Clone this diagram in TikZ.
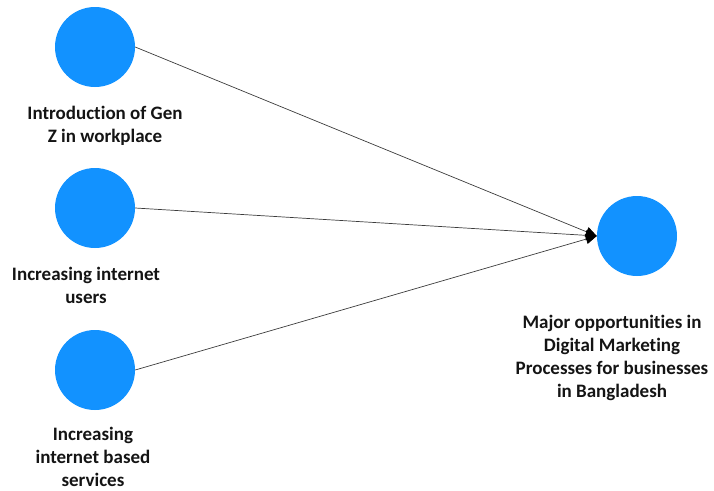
\documentclass[tikz,border=0pt]{standalone}
\usepackage{fontspec}
\setmainfont{Carlito}[Ligatures=NoCommon]
\usetikzlibrary{arrows.meta, positioning}
\definecolor{cFactor}{RGB}{18, 146, 255}
\definecolor{tDark}{RGB}{20, 20, 20}
\definecolor{bLine}{RGB}{60, 60, 60}

\begin{document}
\begin{tikzpicture}[
    x=1pt, y=-1pt,
    font=\fontsize{19}{23}\selectfont\bfseries,
    >=Triangle,
    factor/.style={
        circle,
        fill=cFactor,
        minimum size=80pt,
        inner sep=0pt
    },
    caption/.style={
        align=center,
        inner sep=0pt,
        text=tDark
    },
    arrow/.style={-{Triangle[length=11pt, width=10pt, color=black]}, line width=0.7pt, color=bLine}
]
\useasboundingbox (0,0) rectangle (714,490);

\node[factor] (genz) at (95, 47) {};
\node[factor] (users) at (95, 208) {};
\node[factor] (services) at (95, 370) {};
\node[factor] (oppor) at (637, 236) {};

\node[caption] (genzText) at (105, 126) {Introduction of Gen\\Z in workplace};
\node[caption] (usersText) at (86, 285) {Increasing internet\\users};
\node[caption] (servicesText) at (93, 457) {Increasing\\internet based\\services};
\node[caption] (opporText) at (612, 358) {Major opportunities in\\Digital Marketing\\Processes for businesses\\in Bangladesh};

\draw[arrow] (genz.east) -- (oppor.west);
\draw[arrow] (users.east) -- (oppor.west);
\draw[arrow] (services.east) -- (oppor.west);

\end{tikzpicture}
\end{document}
